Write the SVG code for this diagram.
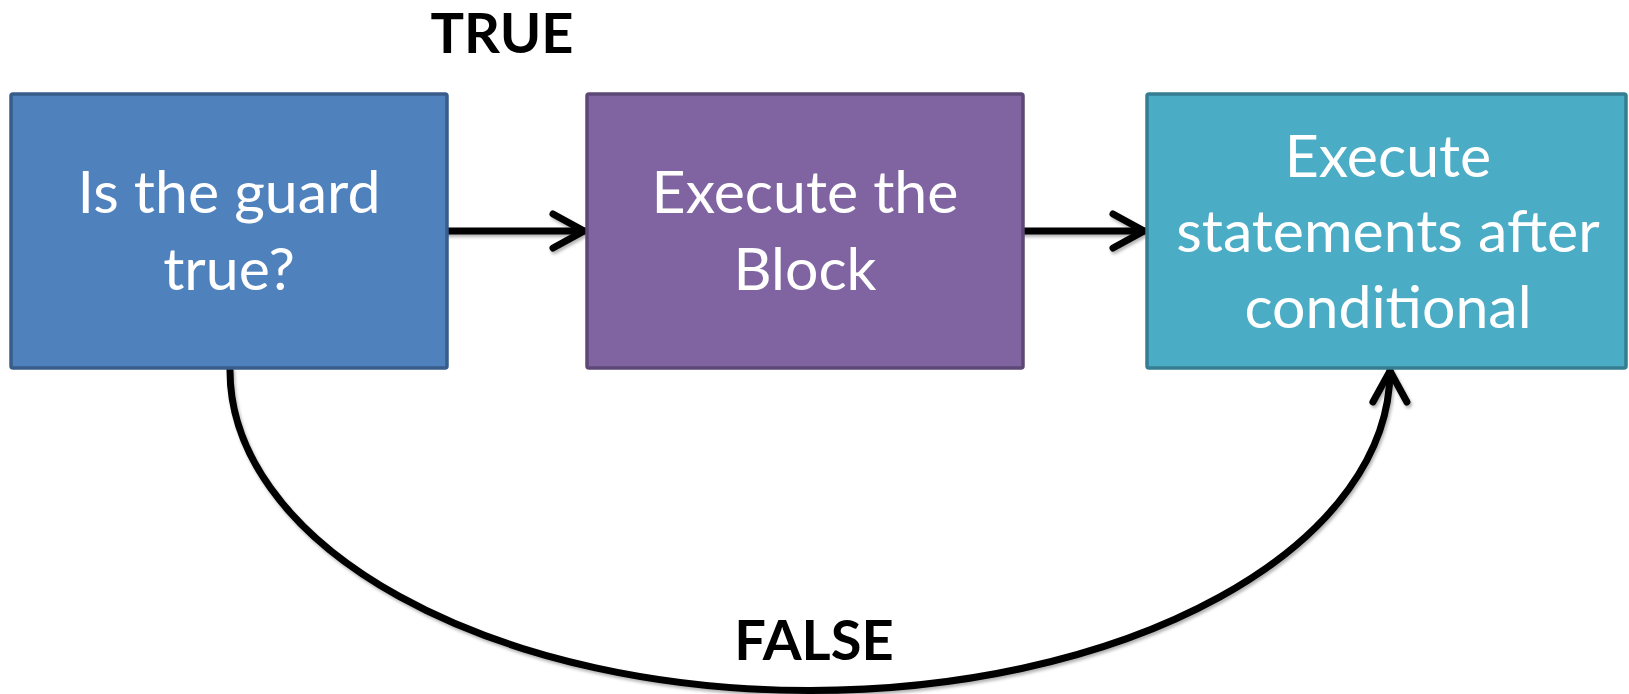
<svg xmlns="http://www.w3.org/2000/svg" width="1629" height="694" viewBox="0 0 1629 694">
<style>
.node rect{stroke-width:3.5}
.lbl{font-family:Lato,"Open Sans","Liberation Sans",sans-serif;font-size:59px;fill:#ffffff;text-anchor:middle}
.big{font-family:Lato,"Open Sans","Liberation Sans",sans-serif;font-size:56px;font-weight:bold;fill:#000000;text-anchor:middle}
.conn{fill:none;stroke:#000;stroke-width:7;stroke-linecap:round}
</style>
<defs>
<marker id="chev" markerUnits="userSpaceOnUse" viewBox="-40 -24 48 48" markerWidth="48" markerHeight="48" refX="0" refY="0" orient="auto">
<path d="M-31,-17 L0,0 L-31,17" fill="none" stroke="#000" stroke-width="7" stroke-linecap="round" stroke-linejoin="miter"/>
</marker>
<filter id="sh" x="-10%" y="-10%" width="120%" height="120%">
<feDropShadow dx="1.5" dy="2.5" stdDeviation="1.8" flood-color="#000" flood-opacity="0.3"/>
</filter>
</defs>
<g id="connectors" filter="url(#sh)">
<path class="conn" d="M447,231 L584,231" marker-end="url(#chev)"/>
<path class="conn" d="M1023,231 L1144,231" marker-end="url(#chev)"/>
<path class="conn" d="M230,370 A580,320 0 0 0 1390,371" marker-end="url(#chev)"/>
</g>
<g id="node-guard" class="node">
<rect x="11" y="94" width="436" height="274" rx="2" fill="#4F81BD" stroke="#385D8A"/>
<text class="lbl" x="229" y="213">Is the guard</text>
<text class="lbl" x="229" y="290">true?</text>
</g>
<g id="node-block" class="node">
<rect x="587" y="94" width="436" height="274" rx="2" fill="#8064A2" stroke="#5C4776"/>
<text class="lbl" x="805" y="213">Execute the</text>
<text class="lbl" x="805" y="290">Block</text>
</g>
<g id="node-after" class="node">
<rect x="1147" y="94" width="479" height="274" rx="2" fill="#4BACC6" stroke="#357D91"/>
<text class="lbl" x="1388" y="177">Execute</text>
<text class="lbl" x="1388" y="252">statements after</text>
<text class="lbl" x="1388" y="328">conditional</text>
</g>
<g id="label-true">
<text class="big" x="502" y="53">TRUE</text>
</g>
<g id="label-false">
<text class="big" x="814" y="660">FALSE</text>
</g>
</svg>
